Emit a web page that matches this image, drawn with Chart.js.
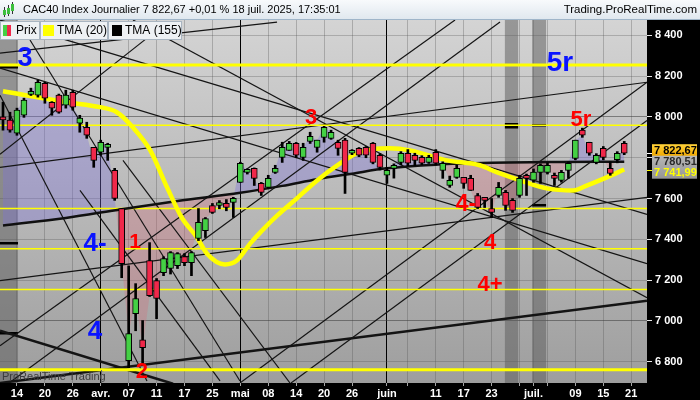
<!DOCTYPE html>
<html>
<head>
<meta charset="utf-8">
<title>CAC40 Index Journalier</title>
<script src="https://cdn.jsdelivr.net/npm/chart.js"></script>
<style>
  html, body { margin: 0; padding: 0; background: #000; }
  canvas { display: block; }
</style>
</head>
<body>
<canvas id="chart" width="700" height="400"></canvas>
<script>
// daily candles, index 0 = 12 mars 2025 ... index 89 = 18 juil. 2025
const opens  = [8000,7984,7920,8008,8110,8107,8165,8072,8107,8057,8121,7969,7949,7851,7827,7851,7738,7551,6805,7036,
                6908,7296,7198,7237,7257,7271,7315,7286,7404,7443,7566,7566,7576,7581,7679,7728,7748,7674,7655,7728,
                7802,7836,7871,7802,7880,7851,7900,7895,7876,7886,7822,7846,7851,7871,7812,7714,7748,7777,7822,7812,
                7802,7777,7827,7738,7664,7704,7704,7699,7615,7595,7551,7615,7630,7591,7615,7714,7690,7728,7728,7714,
                7689,7738,7797,7935,7876,7777,7846,7748,7790,7871];
const highs  = [8072,8023,8043,8092,8141,8180,8170,8075,8112,8131,8131,8008,7974,7851,7886,7871,7748,7551,7270,7183,
                7002,7384,7208,7315,7340,7335,7330,7340,7551,7507,7576,7590,7595,7606,7778,7745,7750,7679,7714,7763,
                7876,7880,7875,7871,7925,7886,7954,7935,7886,7895,7840,7850,7855,7875,7820,7753,7770,7830,7840,7822,
                7810,7812,7840,7780,7710,7763,7704,7714,7625,7601,7600,7679,7640,7600,7714,7720,7745,7770,7775,7725,
                7738,7780,7886,7945,7876,7820,7855,7780,7830,7880];
const lows   = [7935,7925,7910,7998,8105,8097,8067,8008,8018,8043,8033,7925,7895,7753,7812,7787,7591,7212,6771,6952,
                6790,7120,7011,7222,7230,7257,7271,7222,7394,7409,7527,7550,7540,7507,7679,7720,7664,7615,7650,7723,
                7777,7836,7800,7787,7870,7827,7876,7890,7812,7625,7815,7805,7800,7770,7740,7674,7700,7765,7760,7760,
                7765,7772,7765,7699,7655,7699,7650,7640,7551,7556,7507,7606,7542,7532,7606,7615,7680,7674,7720,7664,
                7680,7699,7790,7900,7812,7770,7790,7714,7775,7815];
const closes = [7985,7935,8033,8082,8125,8170,8092,8043,8023,8107,8048,7994,7910,7787,7876,7861,7601,7281,6938,7110,
                6869,7124,7110,7306,7335,7330,7286,7335,7483,7502,7532,7576,7556,7601,7773,7738,7699,7630,7699,7748,
                7851,7871,7812,7851,7905,7886,7949,7925,7846,7728,7836,7812,7812,7777,7753,7738,7763,7822,7773,7787,
                7773,7802,7773,7773,7689,7748,7674,7640,7556,7591,7532,7655,7566,7542,7699,7699,7730,7763,7763,7699,
                7728,7773,7886,7910,7822,7812,7802,7723,7822,7822.67];

// moving averages (candle index, value)
const tma20Idx  = [0,9.2,13.9,16.3,18.6,21.1,23.5,25.6,27.8,29.2,31.8,33.5,35.4,37.1,39.3,42.1,45,48.3,50.7,53,55.4,58.3,63.6,68.3,70.8,74.1,77.9,81.7,83.7,86.5,89];
const tma20Val  = [8126,8072,8048,8023,7949,7836,7655,7507,7409,7331,7277,7296,7379,7443,7517,7601,7689,7772,7822,7841,7846,7836,7787,7763,7728,7689,7650,7640,7665,7704,7741.99];
const tma155Idx = [0,9,17,25,34,40,45,50,55,62,70,80,89];
const tma155Val = [7468,7505,7548,7588,7628,7662,7695,7722,7748,7766,7775,7779,7780.51];

// horizontal yellow levels
const levels     = [8255, 7959, 7551, 7354, 7154, 6761];
const levelWidth = [3, 1.5, 1.5, 1.5, 1.5, 3];

// trend lines: [index0, price0, index1, price1]
const trendLines = [
  [-0.43, 8313, 39.26, 8465],
  [-0.43, 8475, 92.26, 7522],
  [-0.43, 8239, 92.26, 7281],
  [18.62, 8475, 92.26, 7114],
  [-0.43, 7753, 92.26, 8170],
  [-0.43, 7198, 92.26, 7606],
  [-0.43, 6696, 92.26, 7099],
  [-0.43, 6952, 24.36, 6692],
  [-0.43, 7817, 23.21, 8456],
  [-0.43, 6879, 64.76, 8475],
  [0.86, 6696, 71.2, 8465],
  [33.95, 6696, 92.26, 8170],
  [41.26, 6696, 92.26, 7983],
  [3.87, 8377, 33.95, 6706],
  [-0.43, 8106, 20.63, 6706],
  [17.19, 7787, 41.12, 6696],
  [11.03, 7640, 31.09, 6706]
];
const trendWidth = [1.2,1.2,1.2,1.2,1.2,1.2,2.5,2.5,1.2,1.2,1.2,1.2,1.2,1.2,1.2,1.2,1.2];

// axes
const xMin = -0.43, xMax = 92.26;
const yMin = 6696, yMax = 8475;
const tickIdx = [2,6,10,14,18,22,26,30,34,38,42,46,50,55,58,62,66,70,74,76,78,82,86,90];
const tickLbl = ['14','20','26','avr.','07','11','17','25','mai','08','14','20','26','juin','','11','17','23','','juil.','','09','15','21'];
const monthLbl = ['avr.', 'mai', 'juin'];
const yTicks = [6800, 7000, 7200, 7400, 7600, 7800, 8000, 8200, 8400];

// shaded columns and the short black marks drawn in them
const bandFrom = [-0.43, 71.9, 75.8];
const bandTo   = [2.15, 73.8, 77.8];
const markFrom  = [-0.43, -0.43, -0.43, 71.9, 71.9, 75.8, 75.8];
const markTo    = [2.15, 2.15, 2.15, 73.8, 73.8, 77.8, 77.8];
const markPrice = [8244, 7380, 6943, 7966, 7953, 7962, 7566];

// wave labels
const noteText  = ['3', '4-', '4', '1', '2', '3', '5r', '5r', '4-', '4', '4+'];
const noteIdx   = [3.15, 13.18, 13.18, 18.91, 19.91, 44.13, 79.8, 82.8, 66.33, 69.77, 69.77];
const notePrice = [8288, 7379, 6947, 7384, 6750, 7993, 8264, 7984, 7571, 7384, 7178];
const noteColor = ['#0a14ff','#0a14ff','#0a14ff','#ff0000','#ff0000','#ff0000','#0a14ff','#ff0000','#ff0000','#ff0000','#ff0000'];
const noteSize  = [27, 26, 26, 21, 22, 22, 28, 22, 23, 22, 22];

const FONT = '"Liberation Sans", Arial, sans-serif';
const GREEN = '#44d044', RED = '#f0284a';

function fmtPrice(v, dec) {
  const s = v.toFixed(dec).split('.');
  const head = s[0].replace(/\B(?=(\d{3})+(?!\d))/g, ' ');
  return dec ? head + ',' + s[1] : head;
}

const datasets = [];
// close line, only used for the shaded area against the TMA(155)
datasets.push({
  type: 'line',
  data: closes.map((c, i) => ({ x: i, y: c })),
  borderColor: 'rgba(0,0,0,0)', borderWidth: 1, pointRadius: 0,
  fill: { target: 1, above: 'rgba(125,115,215,0.36)', below: 'rgba(215,105,120,0.30)' },
  order: 9
});
datasets.push({
  type: 'line',
  data: tma155Idx.map((x, k) => ({ x: x, y: tma155Val[k] })),
  borderColor: '#101010', borderWidth: 2.5, pointRadius: 0,
  cubicInterpolationMode: 'monotone', clip: 0, order: 3
});
datasets.push({
  type: 'line',
  data: tma20Idx.map((x, k) => ({ x: x, y: tma20Val[k] })),
  borderColor: '#ffff00', borderWidth: 4.5, pointRadius: 0,
  cubicInterpolationMode: 'monotone', clip: 0, order: 2
});
levels.forEach((lv, k) => datasets.push({
  type: 'line',
  data: [{ x: xMin - 1, y: lv }, { x: xMax + 1, y: lv }],
  borderColor: '#ffff00', borderWidth: levelWidth[k], pointRadius: 0, clip: 0, order: 4
}));
trendLines.forEach((t, k) => datasets.push({
  type: 'line',
  data: [{ x: t[0], y: t[1] }, { x: t[2], y: t[3] }],
  borderColor: '#141414', borderWidth: trendWidth[k], pointRadius: 0, clip: 0, order: 5
}));
// wicks
datasets.push({
  type: 'bar',
  data: closes.map((c, i) => ({ x: i, y: [lows[i], highs[i]] })),
  backgroundColor: '#000', barThickness: 2, grouped: false, order: 1
});
// bodies
datasets.push({
  type: 'bar',
  data: closes.map((c, i) => ({ x: i, y: [opens[i], c] })),
  backgroundColor: closes.map((c, i) => c >= opens[i] ? GREEN : RED),
  borderColor: '#000', borderWidth: 1, borderSkipped: false,
  barThickness: 6, minBarLength: 3, grouped: false, order: 0
});

const X = (chart, v) => chart.scales.x.getPixelForValue(v);
const Y = (chart, v) => chart.scales.y.getPixelForValue(v);

const backdrop = {
  id: 'backdrop',
  beforeDraw(chart) {
    const { ctx, chartArea: a, width, height } = chart;
    ctx.save();
    ctx.fillStyle = '#000';
    ctx.fillRect(0, 0, width, height);
    let g = ctx.createLinearGradient(0, 0, 0, 20);
    g.addColorStop(0, '#f8fafc');
    g.addColorStop(1, '#dfe7ee');
    ctx.fillStyle = g;
    ctx.fillRect(0, 0, width, 20);
    ctx.fillStyle = '#9fb5c9';
    ctx.fillRect(0, 19, width, 1);
    g = ctx.createLinearGradient(0, a.top, 0, a.bottom);
    g.addColorStop(0, '#d4d4d4');
    g.addColorStop(1, '#9e9e9e');
    ctx.fillStyle = g;
    ctx.fillRect(a.left, a.top, a.right - a.left, a.bottom - a.top);

    // little candle icon
    ctx.fillStyle = '#333';
    ctx.fillRect(4, 7, 1, 10); ctx.fillRect(8, 5, 1, 11); ctx.fillRect(12, 2, 1, 12);
    ctx.fillStyle = '#3cbf3c';
    ctx.fillRect(3, 10, 3, 5); ctx.fillRect(7, 8, 3, 6); ctx.fillRect(11, 4, 3, 7);

    ctx.fillStyle = '#000';
    ctx.font = '11px ' + FONT;
    ctx.textBaseline = 'middle';
    ctx.textAlign = 'left';
    ctx.fillText('CAC40 Index Journalier 7 822,67 +0,01 % 18 juil. 2025, 17:35:01', 23, 10);
    ctx.font = '11.5px ' + FONT;
    ctx.textAlign = 'right';
    ctx.fillText('Trading.ProRealTime.com', 697, 10);
    ctx.restore();
  },
  beforeDatasetsDraw(chart) {
    const { ctx, chartArea: a } = chart;
    ctx.save();
    ctx.beginPath();
    ctx.rect(a.left, a.top, a.right - a.left, a.bottom - a.top);
    ctx.clip();
    ctx.fillStyle = 'rgba(90,90,90,0.5)';
    bandFrom.forEach((f, k) => {
      const x0 = X(chart, f), x1 = X(chart, bandTo[k]);
      ctx.fillRect(x0, a.top, x1 - x0, a.bottom - a.top);
    });
    ctx.fillStyle = '#000';
    markFrom.forEach((f, k) => {
      const x0 = X(chart, f), x1 = X(chart, markTo[k]);
      ctx.fillRect(x0, Math.round(Y(chart, markPrice[k])) - 1, x1 - x0, 2.5);
    });
    ctx.restore();
  },
  afterDraw(chart) {
    const { ctx } = chart;
    ctx.save();
    // legend boxes
    ctx.font = '12px ' + FONT;
    ctx.textBaseline = 'middle';
    ctx.textAlign = 'left';
    const boxes = [[0, 39], [40, 67], [108, 73]];
    boxes.forEach(b => {
      ctx.fillStyle = '#eef1f4';
      ctx.fillRect(b[0] + 0.5, 21.5, b[1], 18);
      ctx.strokeStyle = '#a9b5c1';
      ctx.lineWidth = 1;
      ctx.strokeRect(b[0] + 0.5, 21.5, b[1], 18);
    });
    ctx.fillStyle = GREEN; ctx.fillRect(3, 25, 4, 11);
    ctx.fillStyle = RED; ctx.fillRect(7, 25, 4, 11);
    ctx.fillStyle = '#ffff00'; ctx.fillRect(43, 25, 11, 11);
    ctx.fillStyle = '#000'; ctx.fillRect(112, 25, 10, 11);
    ctx.fillStyle = '#000';
    ctx.fillText('Prix', 16, 31);
    ctx.fillText('TMA (20)', 57, 31);
    ctx.fillText('TMA (155)', 125, 31);

    // wave labels
    ctx.textAlign = 'center';
    noteText.forEach((t, k) => {
      ctx.font = 'bold ' + noteSize[k] + 'px ' + FONT;
      ctx.fillStyle = noteColor[k];
      ctx.fillText(t, X(chart, noteIdx[k]), Y(chart, notePrice[k]));
    });

    // watermark
    ctx.font = '11px ' + FONT;
    ctx.textAlign = 'left';
    ctx.fillStyle = '#3c3c3c';
    ctx.fillText('ProRealTime Trading', 2, 377);
    ctx.fillStyle = '#6a6a6a';
    ctx.fillRect(101, 370, 1, 13);

    // price tags on the right axis
    const last = closes[closes.length - 1];
    const m155 = tma155Val[tma155Val.length - 1];
    const m20 = tma20Val[tma20Val.length - 1];
    const y2 = Y(chart, m155);
    const y1 = Math.min(Y(chart, last), y2 - 11.5);
    const y3 = Math.max(Y(chart, m20), y2 + 11);
    const tx = chart.chartArea.right;
    ctx.fillStyle = '#fff';
    ctx.fillRect(tx, Math.round(Y(chart, last)), 5, 1);
    ctx.fillStyle = '#ffff00';
    ctx.fillRect(tx, Math.round(Y(chart, m20)), 5, 1);
    const tags = [
      [y1, last, ['#ffd23a', '#f0a800'], '#000'],
      [y2, m155, ['#b8b8b8', '#a4a4a4'], '#2a2a2a'],
      [y3, m20, ['#a8a8a8', '#949494'], '#ffff00']
    ];
    ctx.font = 'bold 11px ' + FONT;
    tags.forEach(t => {
      const g = ctx.createLinearGradient(0, t[0] - 6, 0, t[0] + 6);
      g.addColorStop(0, t[2][0]);
      g.addColorStop(1, t[2][1]);
      ctx.fillStyle = g;
      ctx.fillRect(tx + 5, t[0] - 6, 45, 12);
      ctx.fillStyle = t[3];
      ctx.fillText(fmtPrice(t[1], 2), tx + 7, t[0] + 0.5);
    });
    ctx.restore();
  }
};

new Chart('chart', {
  type: 'line',
  data: { datasets: datasets },
  options: {
    responsive: false,
    animation: false,
    devicePixelRatio: 1,
    events: [],
    layout: { padding: { top: 20, left: 0, right: 0, bottom: 0 } },
    plugins: { legend: { display: false }, tooltip: { enabled: false } },
    scales: {
      x: {
        type: 'linear', min: xMin, max: xMax, offset: false,
        afterBuildTicks: s => { s.ticks = tickIdx.map(v => ({ value: v })); },
        afterFit: s => { s.height = 17; },
        ticks: {
          autoSkip: false, maxRotation: 0, padding: 1, color: '#fff',
          font: { family: FONT, size: 11, weight: 'bold' },
          callback: (v, k) => tickLbl[k]
        },
        grid: {
          offset: false,
          color: c => monthLbl.includes(tickLbl[c.index]) ? '#000' : 'rgba(80,80,80,0.32)',
          tickColor: 'rgba(210,210,210,0.8)', tickLength: 3, lineWidth: 1
        },
        border: { display: false }
      },
      y: {
        type: 'linear', position: 'right', min: yMin, max: yMax,
        afterBuildTicks: s => { s.ticks = yTicks.map(v => ({ value: v })); },
        afterFit: s => { s.width = 53; },
        ticks: {
          padding: 3, color: '#fff',
          font: { family: FONT, size: 11, weight: 'bold' },
          callback: v => fmtPrice(v, 0)
        },
        grid: {
          color: c => c.tick && c.tick.value % 1000 === 0 ? 'rgba(60,60,60,0.55)' : 'rgba(80,80,80,0.3)',
          tickColor: '#e8e8e8', tickLength: 5
        },
        border: { display: false }
      }
    }
  },
  plugins: [backdrop]
});
</script>
</body>
</html>
